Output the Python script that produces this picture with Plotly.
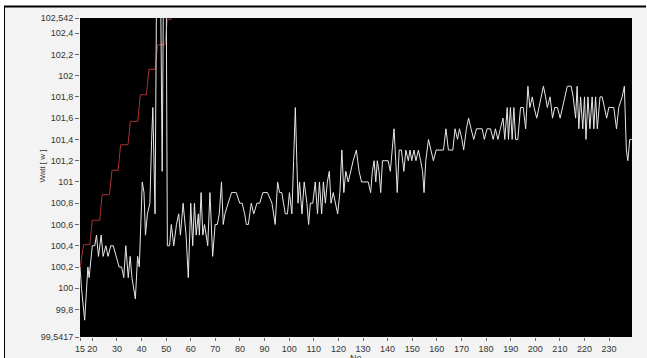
import plotly.graph_objects as go

# ---------------- data ----------------
white_x = [
    15.0, 15.6, 16.9, 18.2, 18.7, 20.0, 21.0, 21.7, 22.5, 23.6, 24.4, 25.5, 26.4, 27.5, 28.5, 29.6,
    30.9, 31.9, 32.8, 33.6, 34.6, 35.4, 36.1, 37.5, 38.4, 39.1, 40.3, 41.0, 41.6, 42.4, 43.4, 44.1,
    44.6, 45.5, 46.3, 47.5, 48.4, 49.1, 49.9, 50.5, 51.4, 52.1, 53.1, 54.2, 55.1, 55.8, 56.9, 58.1,
    59.0, 60.0, 60.8, 61.5, 62.2, 63.1, 63.5, 64.2, 64.9, 65.6, 66.2, 66.9, 67.8, 68.9, 69.9, 70.8,
    71.6, 72.5, 73.2, 73.9, 75.2, 76.6, 77.2, 78.5, 79.9, 80.9, 81.9, 82.6, 83.4, 84.6, 85.6, 86.9,
    88.0, 89.3, 91.2, 93.0, 94.3, 95.3, 96.1, 97.0, 98.4, 99.3, 100.1, 101.1, 101.8, 102.5, 103.1, 103.6,
    104.2, 105.2, 106.1, 107.2, 107.9, 108.6, 109.6, 110.6, 111.5, 112.3, 113.2, 113.9, 114.7, 115.5, 116.3, 117.0,
    117.9, 118.7, 119.7, 120.6, 121.4, 122.2, 123.0, 124.0, 124.9, 126.0, 127.3, 128.4, 129.4, 130.7, 132.1, 133.1,
    133.8, 134.5, 135.2, 135.8, 136.5, 137.2, 137.9, 138.8, 140.2, 141.1, 141.9, 142.6, 143.3, 143.9, 144.7, 145.6,
    146.6, 147.4, 148.4, 149.1, 149.8, 150.7, 151.5, 152.5, 153.4, 154.2, 154.8, 155.5, 156.6, 157.5, 158.6, 159.7,
    161.0, 162.7, 163.7, 164.7, 166.5, 167.4, 168.4, 169.2, 170.2, 170.9, 172.0, 172.9, 173.9, 175.0, 176.1, 177.4,
    178.4, 179.3, 180.4, 181.8, 182.9, 183.8, 184.8, 185.8, 186.9, 187.6, 188.6, 189.1, 189.9, 190.6, 191.3, 192.0,
    192.9, 194.0, 195.1, 196.1, 197.0, 197.8, 198.8, 199.5, 200.6, 201.5, 202.5, 203.3, 204.2, 204.9, 206.0, 207.0,
    207.9, 209.0, 210.1, 211.0, 212.0, 213.0, 214.6, 215.4, 216.4, 217.0, 217.7, 218.4, 219.3, 220.0, 220.6, 221.4,
    222.2, 223.1, 223.8, 224.5, 225.2, 226.3, 227.2, 228.2, 229.0, 229.9, 230.9, 231.9, 233.0, 233.9, 235.3, 236.2,
    237.0, 237.6, 238.4, 239.2,
]
white_y = [
    100.2, 100.0, 99.7, 100.2, 100.1, 100.4, 100.4, 100.5, 100.3, 100.5, 100.3, 100.4, 100.3, 100.4, 100.4, 100.3,
    100.2, 100.2, 100.1, 100.4, 100.1, 100.3, 100.1, 99.9, 100.3, 100.2, 101.0, 100.9, 100.5, 100.7, 100.8, 101.4,
    101.7, 100.7, 103.5, 103.5, 101.1, 103.5, 103.5, 100.4, 100.4, 100.6, 100.4, 100.6, 100.7, 100.5, 100.8, 100.5,
    100.1, 100.8, 100.4, 100.8, 100.5, 100.7, 100.5, 100.9, 100.5, 100.6, 100.5, 100.4, 100.9, 100.3, 100.6, 100.6,
    100.7, 101.0, 100.6, 100.7, 100.8, 100.9, 100.9, 100.9, 100.8, 100.8, 100.7, 100.6, 100.6, 100.8, 100.7, 100.8,
    100.8, 100.9, 100.9, 100.8, 100.6, 101.0, 100.9, 100.9, 100.7, 100.7, 100.9, 100.7, 101.2, 101.7, 101.2, 100.8,
    101.0, 100.7, 101.0, 100.8, 100.6, 100.8, 100.8, 101.0, 100.7, 101.0, 100.7, 101.0, 100.8, 101.0, 101.1, 100.8,
    100.9, 100.8, 100.7, 100.9, 101.3, 100.9, 101.1, 101.0, 101.1, 101.2, 101.3, 101.1, 101.0, 101.0, 101.0, 100.9,
    101.1, 101.2, 101.0, 101.2, 101.1, 100.9, 101.2, 101.2, 101.2, 101.1, 101.3, 101.5, 101.2, 100.9, 101.3, 101.3,
    101.1, 101.3, 101.2, 101.3, 101.2, 101.3, 101.2, 101.3, 101.2, 101.1, 100.9, 101.2, 101.4, 101.3, 101.2, 101.3,
    101.3, 101.3, 101.5, 101.3, 101.3, 101.5, 101.4, 101.5, 101.4, 101.3, 101.5, 101.6, 101.5, 101.4, 101.5, 101.5,
    101.5, 101.4, 101.5, 101.5, 101.4, 101.5, 101.4, 101.5, 101.6, 101.4, 101.7, 101.4, 101.7, 101.4, 101.7, 101.4,
    101.4, 101.7, 101.7, 101.5, 101.9, 101.7, 101.8, 101.7, 101.6, 101.7, 101.8, 101.9, 101.8, 101.7, 101.8, 101.6,
    101.7, 101.7, 101.6, 101.7, 101.8, 101.9, 101.9, 101.8, 101.6, 101.9, 101.5, 101.8, 101.5, 101.8, 101.4, 101.8,
    101.5, 101.8, 101.5, 101.8, 101.5, 101.8, 101.8, 101.7, 101.6, 101.7, 101.7, 101.7, 101.5, 101.7, 101.8, 101.9,
    101.3, 101.2, 101.4, 101.4,
]

red_x = [15.0, 16.5, 19.0, 20.0, 23.0, 24.0, 27.0, 28.0, 30.5, 31.5, 34.5, 35.5, 38.5, 39.5,
         42.0, 43.0, 45.5, 46.5, 49.5, 50.5, 52.0, 53.0]
red_y = [100.19, 100.41, 100.41, 100.64, 100.64, 100.88, 100.88, 101.11, 101.11, 101.35, 101.35,
         101.57, 101.57, 101.82, 101.82, 102.06, 102.06, 102.29, 102.29, 102.53, 102.53, 102.77]

y_tickvals = [99.5417, 99.8, 100.0, 100.2, 100.4, 100.6, 100.8, 101.0, 101.2, 101.4,
              101.6, 101.8, 102.0, 102.2, 102.4, 102.542]
y_ticktext = ["99,5417", "99,8", "100", "100,2", "100,4", "100,6", "100,8", "101", "101,2",
              "101,4", "101,6", "101,8", "102", "102,2", "102,4", "102,542"]
x_tickvals = [15, 20, 30, 40, 50, 60, 70, 80, 90, 100, 110, 120, 130, 140, 150, 160,
              170, 180, 190, 200, 210, 220, 230]
x_ticktext = [str(v) for v in x_tickvals]

# ---------------- layout geometry ----------------
W, H = 647, 358
ML, MR, MT, MB = 80, 15, 18, 21
PW, PH = W - ML - MR, H - MT - MB


def px_x(p):
    return (p - ML) / PW


def px_y(p):
    return 1 - (p - MT) / PH


fig = go.Figure()
fig.add_trace(go.Scatter(x=red_x, y=red_y, mode="lines",
                         line=dict(color="#a83232", width=1), showlegend=False))
fig.add_trace(go.Scatter(x=white_x, y=white_y, mode="lines",
                         line=dict(color="#e8e8e8", width=1), showlegend=False))

tickfont = dict(family="Liberation Sans, Arial, sans-serif", size=9, color="#333333")

fig.update_layout(
    width=W, height=H,
    margin=dict(l=ML, r=MR, t=MT, b=MB, autoexpand=False),
    paper_bgcolor="#f3f3f3",
    plot_bgcolor="#000000",
    xaxis=dict(range=[15, 239.3], tickvals=x_tickvals, ticktext=x_ticktext,
               ticks="outside", ticklen=3, tickcolor="#666666", tickfont=tickfont,
               ticklabelstandoff=0, automargin=False,
               showgrid=False, zeroline=False, showline=False),
    yaxis=dict(range=[99.5417, 102.542], tickvals=y_tickvals, ticktext=y_ticktext,
               ticks="outside", ticklen=4, tickcolor="#666666", tickfont=tickfont,
               automargin=False,
               showgrid=False, zeroline=False, showline=False),
    annotations=[
        dict(text="Watt [ w ]", xref="paper", yref="paper", x=px_x(35), y=px_y(166),
             showarrow=False, textangle=-90,
             font=dict(family="Liberation Sans, Arial, sans-serif", size=8, color="#333333")),
        dict(text="No", xref="paper", yref="paper", x=px_x(356), y=px_y(351),
             showarrow=False, yanchor="top",
             font=dict(family="Liberation Sans, Arial, sans-serif", size=9, color="#333333")),
    ],
    shapes=[
        # white outer margin
        dict(type="rect", xref="paper", yref="paper", x0=px_x(0), x1=px_x(W), y0=px_y(0), y1=px_y(6),
             fillcolor="#ffffff", line=dict(width=0), layer="below"),
        dict(type="rect", xref="paper", yref="paper", x0=px_x(0), x1=px_x(4), y0=px_y(0), y1=px_y(H),
             fillcolor="#ffffff", line=dict(width=0), layer="below"),
        # black frame
        dict(type="line", xref="paper", yref="paper", x0=px_x(4), x1=px_x(646), y0=px_y(6.5), y1=px_y(6.5),
             line=dict(color="#000000", width=2)),
        dict(type="line", xref="paper", yref="paper", x0=px_x(4.5), x1=px_x(4.5), y0=px_y(6), y1=px_y(H),
             line=dict(color="#000000", width=1)),
    ],
)

fig.write_html("out.html", config={"displayModeBar": False},
               post_script="document.body.style.margin='0';document.body.style.overflow='hidden';")
